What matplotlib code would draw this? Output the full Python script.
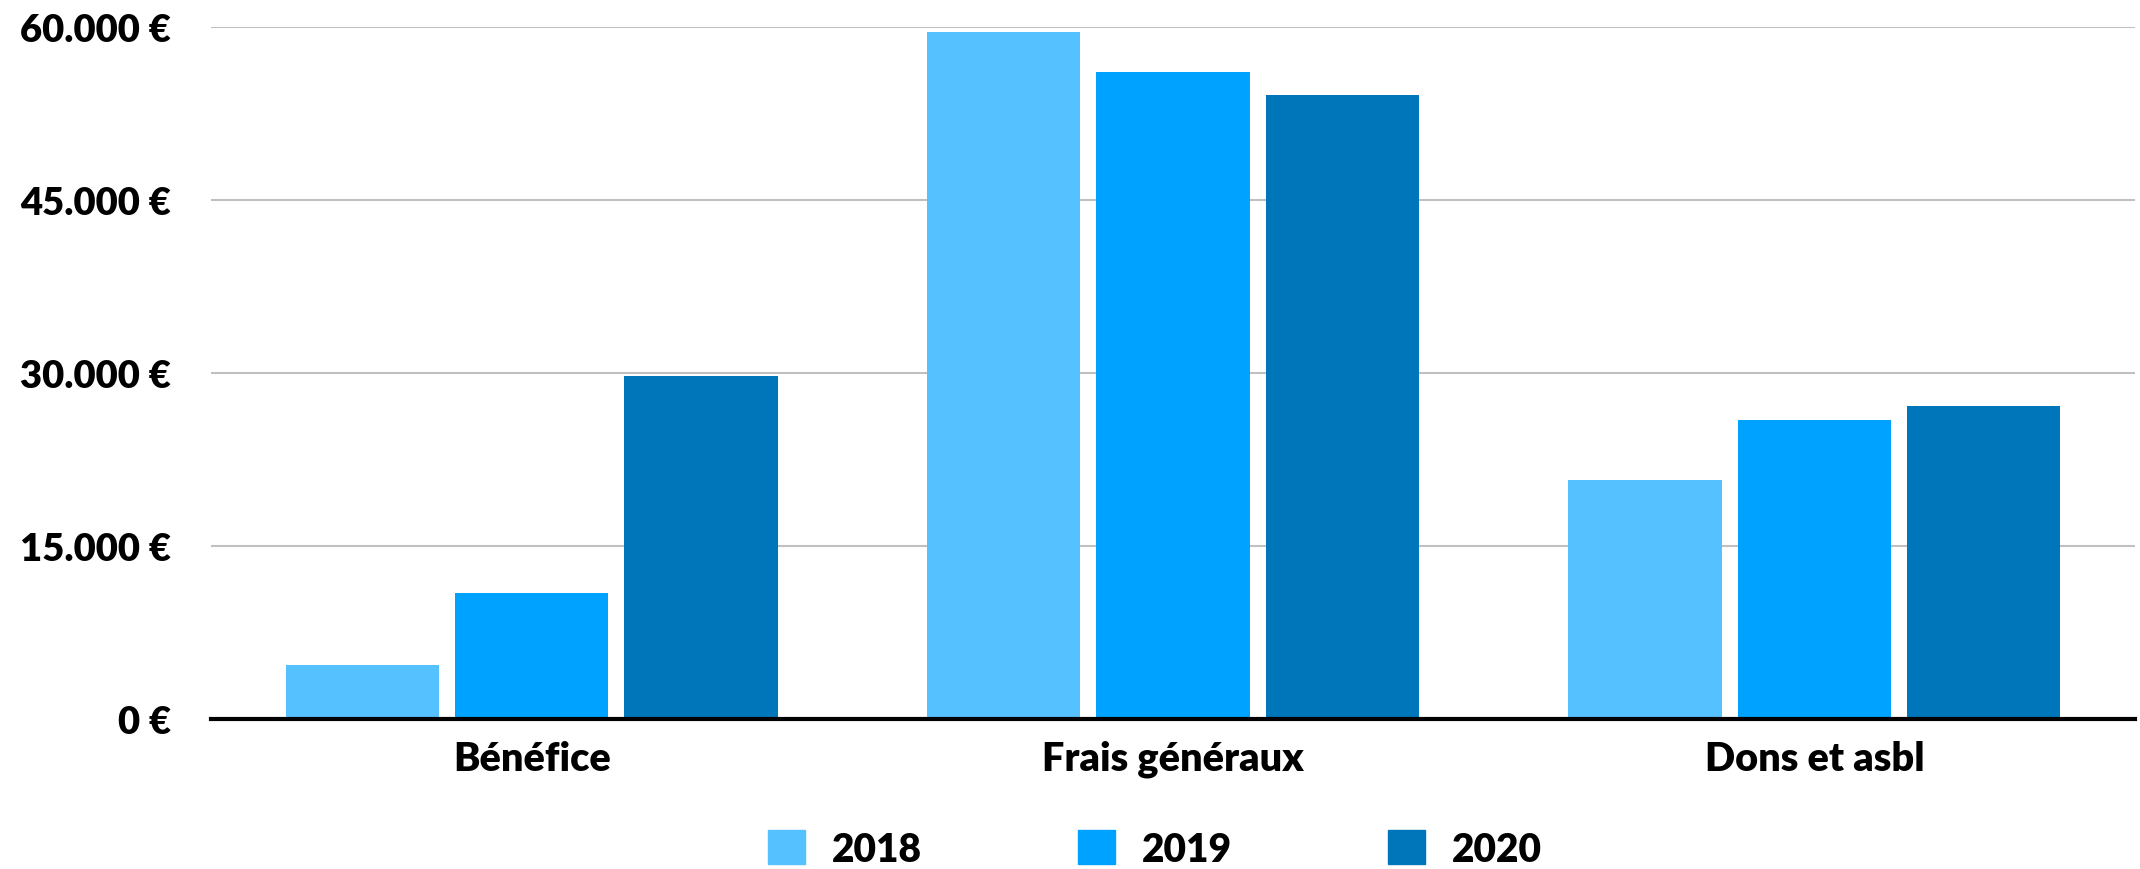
import matplotlib
matplotlib.use("Agg")
import matplotlib.pyplot as plt
import matplotlib.patches as mpatches
import numpy as np

# data
categories = ["Bénéfice", "Frais généraux", "Dons et asbl"]
years = ["2018", "2019", "2020"]
v2018 = [4700, 59600, 20700]
v2019 = [10900, 56100, 25900]
v2020 = [29700, 54100, 27100]
yticks = [0, 15000, 30000, 45000, 60000]
ytick_labels = ["0 €", "15.000 €", "30.000 €", "45.000 €", "60.000 €"]

colors = ["#56C1FF", "#00A2FF", "#0076BA"]

plt.rcParams['font.family'] = ['Lato', 'DejaVu Sans']
plt.rcParams['font.weight'] = 'heavy'

fig = plt.figure(figsize=(21.4, 8.7), dpi=100)
ax = fig.add_axes([211/2140, 150/870, (2135-211)/2140, (720-28)/870])

x = np.arange(len(categories))
width = 0.239
step = 0.264
series = [v2018, v2019, v2020]
handles = []
for i, vals in enumerate(series):
    ax.bar(x + (i-1)*step, vals, width, color=colors[i], zorder=3)
    handles.append(mpatches.Patch(color=colors[i], label=years[i]))

ax.set_xlim(-0.5, 2.5)
ax.set_ylim(0, 60000)
ax.set_yticks(yticks)
ax.set_yticklabels(ytick_labels)
ax.set_xticks(x)
ax.set_xticklabels(categories)
ax.tick_params(axis='y', length=0, pad=29, labelsize=27.5)
ax.tick_params(axis='x', length=0, pad=15, labelsize=28.5)

ax.grid(axis='y', color='#c0c0c0', linewidth=1.5, zorder=0)
for s in ['top', 'right', 'left']:
    ax.spines[s].set_visible(False)
ax.spines['bottom'].set_linewidth(3)
ax.spines['bottom'].set_color('black')
ax.spines['bottom'].set_zorder(4)

fig.legend(handles=handles, loc='center', bbox_to_anchor=(1155/2140, 1 - 850/870),
           ncol=3, frameon=False, fontsize=28, handlelength=0.95, handleheight=0.95,
           handletextpad=0.7, columnspacing=4.0, borderaxespad=0)

fig.savefig("out.png", dpi=100)
